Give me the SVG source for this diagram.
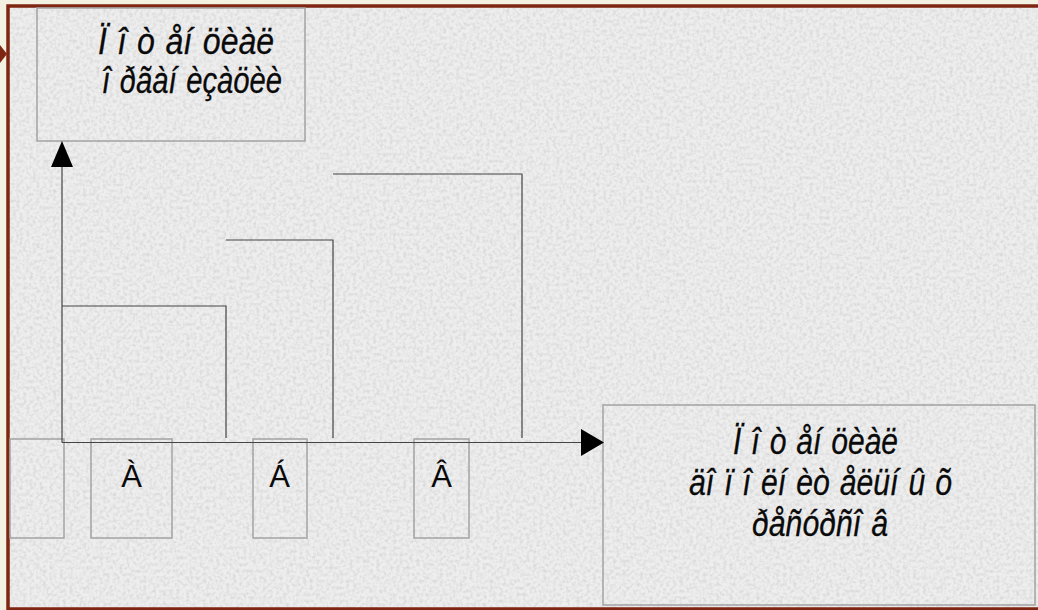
<svg xmlns="http://www.w3.org/2000/svg" width="1038" height="610" viewBox="0 0 1038 610">
  <defs>
    <filter id="marble" x="0" y="0" width="100%" height="100%">
      <feTurbulence type="fractalNoise" baseFrequency="0.3" numOctaves="3" seed="7" result="n"/>
      <feColorMatrix type="matrix" values="0 0 0 0 0.5  0 0 0 0 0.5  0 0 0 0 0.5  0 0 0 -1.8 1.1" in="n"/>
    </filter>
    <style>
      .frame { fill: none; stroke: #7f2612; stroke-width: 3.5; }
      .box { fill: none; stroke: #a3a3a3; stroke-width: 1.5; }
      .line { fill: none; stroke: #444; stroke-width: 1.2; }
      .head { fill: #000; }
      .lbl { font-family: "Liberation Sans", Arial, sans-serif; font-style: italic; font-size: 36px; word-spacing: 2px; fill: #0a0a0a; stroke: #0a0a0a; stroke-width: 0.3; }
      .let { font-family: "Liberation Sans", Arial, sans-serif; font-size: 31px; fill: #0a0a0a; text-anchor: middle; }
    </style>
  </defs>

  <rect x="0" y="0" width="1038" height="610" fill="#f3f1e2"/>
  <rect x="8" y="6" width="1040" height="603" fill="#eeeeee"/>
  <rect x="8" y="6" width="1040" height="603" filter="url(#marble)" opacity="0.5"/>
  <rect class="frame" x="8" y="6" width="1040" height="603"/>
  <polygon points="0,45 7,54 0,63" fill="#7f2612"/>

  <g id="node-potential-org">
    <rect class="box" x="37" y="8" width="268" height="133"/>
    <text class="lbl" x="98" y="54" textLength="176" lengthAdjust="spacingAndGlyphs">Ï î ò åí öèàë</text>
    <text class="lbl" x="102" y="93" textLength="180" lengthAdjust="spacingAndGlyphs">î ðãàí èçàöèè</text>
  </g>

  <g id="node-potential-extra">
    <rect class="box" x="603" y="405" width="432" height="200"/>
    <text class="lbl" x="733" y="454" textLength="165" lengthAdjust="spacingAndGlyphs">Ï î ò åí öèàë</text>
    <text class="lbl" x="689" y="495" textLength="263" lengthAdjust="spacingAndGlyphs">äî ï î ëí èò åëüí û õ</text>
    <text class="lbl" x="752" y="536" textLength="136" lengthAdjust="spacingAndGlyphs">ðåñóðñî â</text>
  </g>

  <g id="node-origin">
    <rect class="box" x="10" y="439" width="54" height="99"/>
  </g>
  <g id="node-A">
    <rect class="box" x="91" y="439" width="81" height="99"/>
    <text class="let" x="131.5" y="487">À</text>
  </g>
  <g id="node-B">
    <rect class="box" x="253" y="439" width="54" height="99"/>
    <text class="let" x="279.5" y="487">Á</text>
  </g>
  <g id="node-C">
    <rect class="box" x="414" y="439" width="55" height="99"/>
    <text class="let" x="441.5" y="487">Â</text>
  </g>

  <g id="connectors">
    <line class="line" x1="62" y1="442.5" x2="62" y2="163"/>
    <polygon class="head" points="51,167 62,141 73,167"/>
    <line class="line" x1="62" y1="442.5" x2="584" y2="442.5"/>
    <polygon class="head" points="581,429 604,442.5 581,456"/>
    <polyline class="line" points="62,306 226,306 226,438"/>
    <polyline class="line" points="226,240 333,240 333,438"/>
    <polyline class="line" points="333,174 522,174 522,438"/>
  </g>
</svg>
